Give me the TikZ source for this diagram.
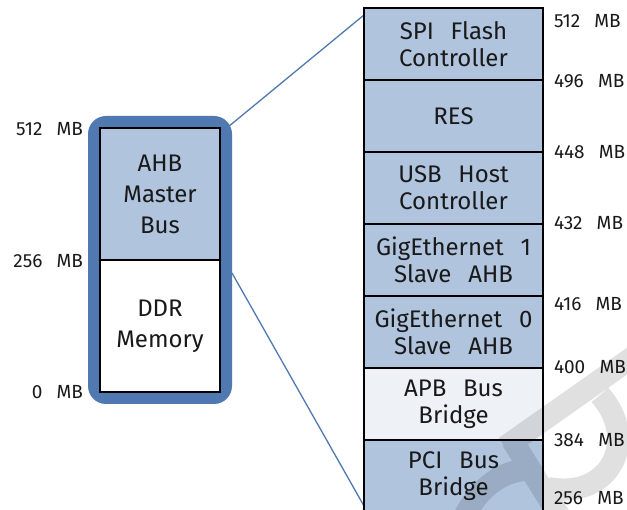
\documentclass[tikz,border=0pt]{standalone}
\usepackage{fontspec}
\setmainfont{Fira Sans}
\usetikzlibrary{calc}
\definecolor{cellblue}{RGB}{176,196,222}
\definecolor{celllight}{RGB}{238,242,247}
\definecolor{frameblue}{RGB}{79,121,176}
\definecolor{ink}{RGB}{25,25,25}
\newcommand{\gp}{\hspace{0.7em}}
\newcommand{\lgp}{\hspace{0.75em}}
\begin{document}
\begin{tikzpicture}[x=1pt,y=-1pt,
  cell/.style={draw=black, line width=1.5pt, fill=cellblue, minimum width=179pt,
    minimum height=72pt, inner sep=0pt, outer sep=0pt, align=center,
    font=\fontsize{24}{27}\selectfont, text=ink},
  lcell/.style={cell, minimum width=120pt, minimum height=132pt,
    font=\fontsize{24}{31}\selectfont},
  lab/.style={inner sep=0pt, outer sep=0pt, font=\fontsize{19}{22}\selectfont, text=ink},
  conn/.style={draw=frameblue, line width=1.3pt},
  wmark/.style={draw=black, draw opacity=0.12, line width=22pt, line cap=butt}]
\useasboundingbox (0,0) rectangle (627,510);
% left block
\node[fill=frameblue, rounded corners=18pt, minimum width=144pt, minimum height=288pt,
  inner sep=0pt, outer sep=0pt] (frame) at (160,260) {};
\node[lcell] (ahb) at (160,194) {AHB\\Master\\Bus};
\node[lcell, fill=white] (ddr) at (160,326) {DDR\\Memory};
\node[lab, anchor=east] (l512) at (83,129) {512\lgp MB};
\node[lab, anchor=east] (l256) at (83,261) {256\lgp MB};
\node[lab, anchor=east] (l0) at (83,392) {0\lgp MB};
% connectors
\draw[conn] ($(frame.north east)+(-4,11)$) -- ($(ahb.north east)+(144,-113)$) coordinate (ctop);
\draw[conn] ($(frame.east)+(0,13)$) -- ($(ddr.south east)+(144,114)$) coordinate (cbot);
% right column
\node[cell] (spi) at (453.5,44) {SPI\gp Flash\\Controller};
\node[cell] (res) at (453.5,116) {RES};
\node[cell] (usb) at (453.5,188) {USB\gp Host\\Controller};
\node[cell] (ge1) at (453.5,260) {GigEthernet\gp 1\\Slave\gp AHB};
\node[cell] (ge0) at (453.5,332) {GigEthernet\gp 0\\Slave\gp AHB};
\node[cell, fill=celllight] (apb) at (453.5,404) {APB\gp Bus\\Bridge};
\node[cell] (pci) at (453.5,476) {PCI\gp Bus\\Bridge};
% right labels
\node[lab, anchor=west] (r512) at (554,21) {512\lgp MB};
\node[lab, anchor=west] (r496) at (554,81) {496\lgp MB};
\node[lab, anchor=west] (r448) at (554,152) {448\lgp MB};
\node[lab, anchor=west] (r432) at (554,223) {432\lgp MB};
\node[lab, anchor=west] (r416) at (554,304) {416\lgp MB};
\node[lab, anchor=west] (r400) at (554,367) {400\lgp MB};
\node[lab, anchor=west] (r384) at (554,440) {384\lgp MB};
\node[lab, anchor=west] (r256) at (554,498) {256\lgp MB};
% faint watermark fragment
\path[wmark] (650,345) -- (505,447)
  (512,440) -- (565,525)
  (600,395) .. controls (640,440) and (610,500) .. (548,488)
  (460,525) .. controls (478,485) and (505,470) .. (528,470);
\end{tikzpicture}
\end{document}
